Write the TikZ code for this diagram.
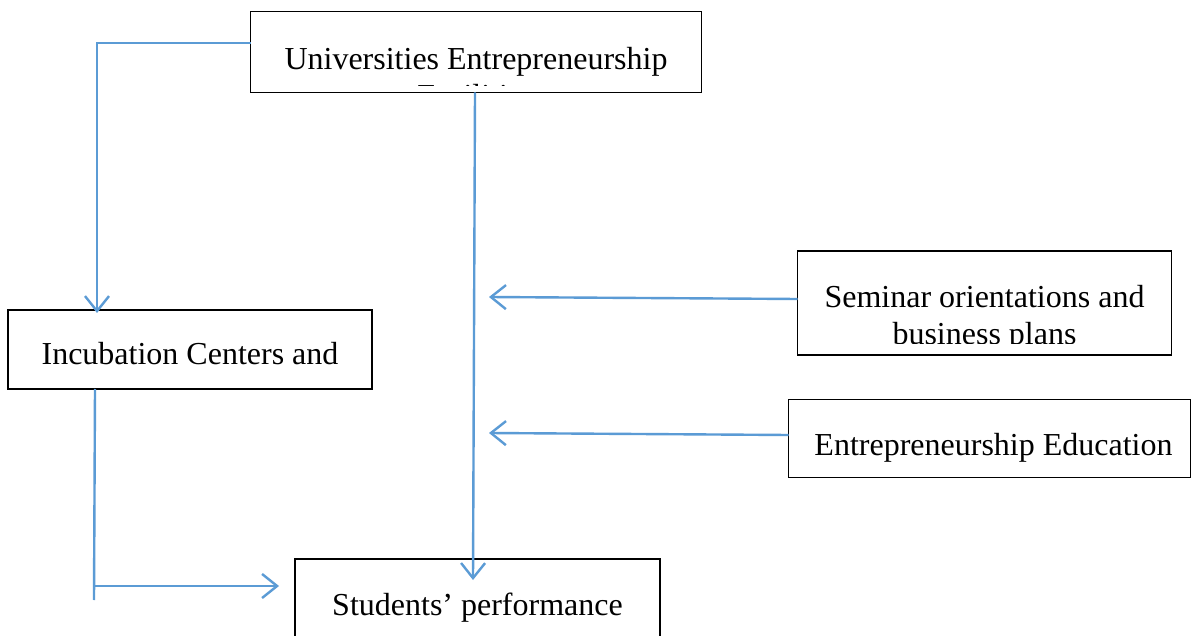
\documentclass[tikz,border=0pt]{standalone}
\usepackage{fontspec}
\setmainfont{Liberation Serif}
\usepackage{tikz}
\usetikzlibrary{arrows.meta,calc}
\definecolor{wireblue}{HTML}{5B9BD5}
\tikzset{
	box/.style={draw=black,line width=1.2pt,fill=white,inner sep=0pt,outer sep=0pt},
	lbl/.style={font=\fontsize{32}{36.5}\selectfont,inner sep=0pt,anchor=base},
	wire/.style={draw=wireblue,line width=2.4pt},
	ar/.style={-{Straight Barb[length=15pt,width=24pt]}}
}
\begin{document}
\begin{tikzpicture}[x=1pt,y=-1pt]
	\clip (0,0) rectangle (1192,636);
	\fill[white] (0,0) rectangle (1192,636);
	\node[box,minimum width=451,minimum height=81] (uni) at (476,52) {};
	\node[box,minimum width=374,minimum height=104] (sem) at (984.5,303) {};
	\node[box,minimum width=364,minimum height=79] (inc) at (190,349.5) {};
	\node[box,minimum width=402,minimum height=78] (edu) at (989.5,438.5) {};
	\node[box,minimum width=365,minimum height=100] (stu) at (477.5,609) {};
	% text inside the boxes, cut off at the inner margin
	\begin{scope}
		\clip ([yshift=7]uni.south west) rectangle (uni.north east);
		\node[lbl] (uniA) at ([yshift=-18]uni.center) {Universities Entrepreneurship};
		\node[lbl] (uniB) at ([yshift=-36.5]uniA.base) {Facilities};
	\end{scope}
	\begin{scope}
		\clip ([yshift=11]sem.south west) rectangle (sem.north east);
		\node[lbl] (semA) at ([yshift=-5]sem.center) {Seminar orientations and};
		\node[lbl] (semB) at ([yshift=-36.5]semA.base) {business plans};
	\end{scope}
	\node[lbl] (incA) at ([yshift=-15]inc.center) {Incubation Centers and};
	\node[lbl] (eduA) at ([xshift=4,yshift=-17]edu.center) {Entrepreneurship Education};
	\node[lbl] (stuA) at ([yshift=-6]stu.center) {Students’ performance};
	% connectors
	\coordinate (foot) at (94,600);
	\coordinate (tee) at (94,586);
	\draw[wire,ar] ([yshift=9]uni.west) -| ([xshift=-93,yshift=-3]inc.north);
	\draw[wire,ar] ([xshift=-1]uni.south) -- ([xshift=-4.5,yshift=-21]stu.north);
	\draw[wire,ar] ([yshift=4]sem.west) -- ([xshift=13,yshift=6]uni.south |- sem.west);
	\draw[wire,ar] ([yshift=3.5]edu.west) -- ([xshift=13,yshift=5.5]uni.south |- edu.west);
	\draw[wire] ([xshift=-95]inc.south) -- (foot);
	\draw[wire,ar] (tee) -- ([xshift=-16]tee -| stu.west);
\end{tikzpicture}
\end{document}
